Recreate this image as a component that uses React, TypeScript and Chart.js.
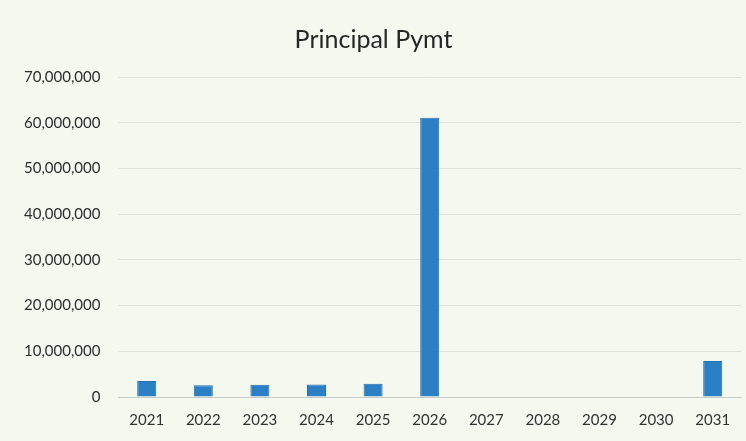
import React, { useEffect, useRef } from "react";
import { Chart, registerables } from "chart.js";

Chart.register(...registerables);

const categories = ["2021", "2022", "2023", "2024", "2025", "2026", "2027", "2028", "2029", "2030", "2031"];
const principalValues = [3500000, 2560000, 2700000, 2750000, 2900000, 61100000, 0, 0, 0, 0, 7900000];
const yTicks = [0, 10000000, 20000000, 30000000, 40000000, 50000000, 60000000, 70000000];
const chartTitle = "Principal Pymt";

export default function App() {
  const ref = useRef<HTMLCanvasElement | null>(null);
  useEffect(() => {
    document.body.style.margin = "0";
    document.body.style.background = "#f4f8ef";
    if (!ref.current) return;
    const chart = new Chart(ref.current, {
      type: "bar",
      data: {
        labels: categories,
        datasets: [
          {
            label: chartTitle,
            data: principalValues,
            backgroundColor: "#2b80c5",
            borderColor: "#236fb2",
            borderWidth: 1,
            barPercentage: 0.42,
            categoryPercentage: 0.8,
          },
        ],
      },
      options: {
        animation: false,
        responsive: false,
        maintainAspectRatio: false,
        layout: { padding: { left: 6, right: 5, top: 0, bottom: -2 } },
        plugins: {
          legend: { display: false },
          tooltip: { enabled: false },
          title: {
            display: true,
            text: chartTitle,
            color: "#262626",
            font: { family: "Lato", size: 25, weight: "normal" },
            padding: { top: 25, bottom: 22 },
          },
        },
        scales: {
          x: {
            grid: { display: false, drawTicks: false },
            border: { display: true, color: "#c8ccc4", width: 1 },
            ticks: {
              color: "#333333",
              font: { family: "Lato", size: 15 },
              padding: 14,
              maxRotation: 0,
            },
          },
          y: {
            min: 0,
            max: 70000000,
            afterBuildTicks: (axis: any) => {
              axis.ticks = yTicks.map((v) => ({ value: v }));
            },
            grid: { color: "#dfe3da", drawTicks: false },
            border: { display: false },
            ticks: {
              color: "#2e2e2e",
              font: { family: "Lato", size: 15 },
              padding: 18,
              callback: (v: any) => Number(v).toLocaleString("en-US"),
            },
          },
        },
      },
    });
    return () => chart.destroy();
  }, []);
  return (
    <div style={{ position: "fixed", left: 0, top: 0, width: 746, height: 441, background: "#f4f8ef" }}>
      <canvas ref={ref} width={746} height={441} style={{ display: "block" }} />
    </div>
  );
}
